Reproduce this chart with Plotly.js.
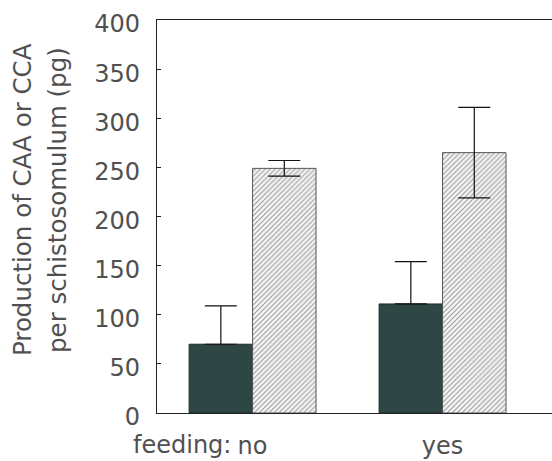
<!DOCTYPE html>
<html>
<head>
<meta charset="utf-8">
<script src="https://cdn.plot.ly/plotly-3.0.1.min.js"></script>
<style>html,body{margin:0;padding:0;background:#fff;}#chart{width:552px;height:461px;}</style>
</head>
<body>
<div id="chart"></div>
<script>
const categories = ['no', 'yes'];
const caaValues = [70, 111];
const caaErrPlus = [39, 43];
const ccaValues = [249, 265];
const ccaErr = [8, 46];
const yTickVals = [0, 50, 100, 150, 200, 250, 300, 350, 400];

const FONT = 'DejaVu Sans, Arial, sans-serif';
const TXT = '#505050';

const traces = [
  {
    type: 'bar', x: categories, y: caaValues, name: 'CAA',
    marker: { color: '#2e4644', line: { color: '#1c2b2a', width: 1 } },
    error_y: { type: 'data', symmetric: false, array: caaErrPlus, arrayminus: [0, 0],
               color: '#111', thickness: 1.2, width: 16 }
  },
  {
    type: 'bar', x: categories, y: ccaValues, name: 'CCA',
    marker: { color: '#f3f3f3', line: { color: '#555', width: 1 },
              pattern: { shape: '/', fgcolor: '#999', bgcolor: '#f6f6f6', size: 3.5, solidity: 0.3 } },
    error_y: { type: 'data', array: ccaErr, color: '#111', thickness: 1.2, width: 16 }
  }
];

const layout = {
  width: 552, height: 461,
  margin: { l: 157, r: 0, t: 20, b: 48 },
  paper_bgcolor: '#fff', plot_bgcolor: '#fff',
  showlegend: false,
  barmode: 'group', bargap: 0.332, bargroupgap: 0,
  font: { family: FONT, size: 24, color: TXT },
  xaxis: {
    type: 'category', range: [-0.503, 1.576],
    showline: true, mirror: true, linecolor: '#222', linewidth: 1.2,
    ticks: '', showgrid: false, zeroline: false,
    tickfont: { family: FONT, size: 24, color: TXT },
    ticklabelstandoff: 11
  },
  yaxis: {
    range: [0, 400], tickvals: yTickVals, ticktext: yTickVals.map(String),
    showline: true, mirror: false, linecolor: '#222', linewidth: 1.2,
    ticks: 'inside', ticklen: 4, tickcolor: '#222', tickwidth: 1.2,
    showgrid: false, zeroline: false,
    tickfont: { family: FONT, size: 24, color: TXT },
    ticklabelstandoff: 11, ticklabelshift: 4
  },
  annotations: [
    { text: 'feeding:', xref: 'paper', yref: 'paper', x: 0.178, y: 0, xanchor: 'right', yanchor: 'top',
      xshift: 6, yshift: -16, showarrow: false, font: { family: FONT, size: 24, color: TXT } },
    { text: 'Production of CAA or CCA', xref: 'paper', yref: 'paper', x: 0, y: 0.542,
      xshift: -134, textangle: -90, xanchor: 'center', yanchor: 'middle', showarrow: false,
      font: { family: FONT, size: 24.5, color: TXT } },
    { text: 'per schistosomulum (pg)', xref: 'paper', yref: 'paper', x: 0, y: 0.542,
      xshift: -99, textangle: -90, xanchor: 'center', yanchor: 'middle', showarrow: false,
      font: { family: FONT, size: 24.5, color: TXT } }
  ]
};

Plotly.newPlot('chart', traces, layout, { displayModeBar: false, staticPlot: true });
</script>
</body>
</html>
